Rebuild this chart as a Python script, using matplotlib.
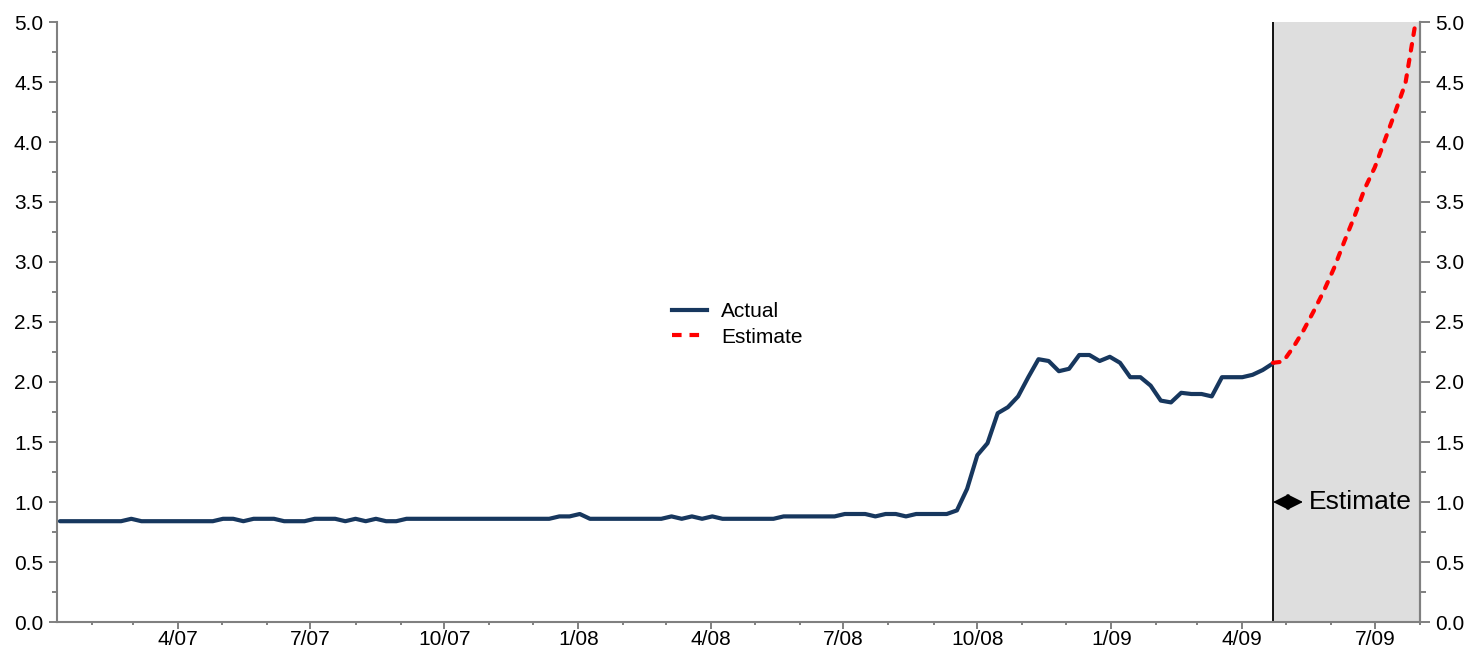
import matplotlib
matplotlib.use("Agg")
import matplotlib.pyplot as plt
import matplotlib.dates as mdates
from matplotlib.ticker import MultipleLocator, FuncFormatter
from matplotlib.lines import Line2D
import pandas as pd

plt.rcParams['font.family'] = ['Liberation Sans', 'DejaVu Sans']

# ---- data (weekly) ----
actual_start = "2007-01-10"
actual_values = [
    0.84, 0.84, 0.84, 0.84, 0.84, 0.84, 0.84, 0.86, 0.84, 0.84,
    0.84, 0.84, 0.84, 0.84, 0.84, 0.84, 0.86, 0.86, 0.84, 0.86,
    0.86, 0.86, 0.84, 0.84, 0.84, 0.86, 0.86, 0.86, 0.84, 0.86,
    0.84, 0.86, 0.84, 0.84, 0.86, 0.86, 0.86, 0.86, 0.86, 0.86,
    0.86, 0.86, 0.86, 0.86, 0.86, 0.86, 0.86, 0.86, 0.86, 0.88,
    0.88, 0.90, 0.86, 0.86, 0.86, 0.86, 0.86, 0.86, 0.86, 0.86,
    0.88, 0.86, 0.88, 0.86, 0.88, 0.86, 0.86, 0.86, 0.86, 0.86,
    0.86, 0.88, 0.88, 0.88, 0.88, 0.88, 0.88, 0.90, 0.90, 0.90,
    0.88, 0.90, 0.90, 0.88, 0.90, 0.90, 0.90, 0.90, 0.93, 1.11,
    1.39, 1.49, 1.74, 1.79, 1.88, 2.04, 2.19, 2.175, 2.09, 2.11,
    2.225, 2.225, 2.175, 2.21, 2.16, 2.04, 2.04, 1.97, 1.845, 1.83,
    1.91, 1.90, 1.90, 1.88, 2.04, 2.04, 2.04, 2.06, 2.10, 2.155,
]
estimate_start = "2009-04-22"
estimate_values = [
    2.16, 2.17, 2.29, 2.43, 2.59, 2.76, 2.95, 3.17, 3.38, 3.61,
    3.79, 4.02, 4.25, 4.49, 5.0,
]
actual_dates = pd.date_range(actual_start, periods=len(actual_values), freq="7D")
estimate_dates = pd.date_range(estimate_start, periods=len(estimate_values), freq="7D")

x_min = pd.Timestamp("2007-01-08")
x_max = pd.Timestamp("2009-08-01")
shade_start = actual_dates[-1]

navy = "#17375E"
red = "#FF0000"
gray = "#808080"

W, H = 1473, 657
fig = plt.figure(figsize=(W / 100, H / 100), dpi=100)
ax = fig.add_axes([57 / W, 1 - 622 / H, (1420 - 57) / W, (622 - 22) / H])

ax.axvspan(shade_start, x_max, color="#DEDEDE", zorder=0, lw=0)
ax.axvline(shade_start, color="black", lw=1.3, zorder=1)

ax.plot(actual_dates, actual_values, color=navy, lw=3.0, solid_capstyle="round",
        solid_joinstyle="round", zorder=3, clip_on=False)
ax.plot(estimate_dates, estimate_values, color=red, lw=3.0, dashes=(1.6, 2.2),
        dash_capstyle="round", zorder=3)

ax.set_xlim(x_min, x_max)
ax.set_ylim(0, 5)

ax.xaxis.set_major_locator(mdates.MonthLocator(bymonth=[1, 4, 7, 10]))
ax.xaxis.set_minor_locator(mdates.MonthLocator())
ax.xaxis.set_major_formatter(FuncFormatter(
    lambda v, p: f"{mdates.num2date(v).month}/{mdates.num2date(v).strftime('%y')}"))

ax.yaxis.set_major_locator(MultipleLocator(0.5))
ax.yaxis.set_minor_locator(MultipleLocator(0.25))
ax.yaxis.set_major_formatter(FuncFormatter(lambda v, p: f"{v:.1f}"))

ax.spines["top"].set_visible(False)
for s in ["left", "bottom", "right"]:
    ax.spines[s].set_color(gray)
    ax.spines[s].set_linewidth(1.5)
    ax.spines[s].set_zorder(4)

ax.tick_params(axis="x", which="major", length=5, width=1.4, color=gray, labelsize=15, pad=1)
ax.tick_params(axis="x", which="minor", length=2.5, width=1.4, color=gray)
ax.tick_params(axis="y", which="major", length=6, width=1.4, color=gray, labelsize=15, pad=4)
ax.tick_params(axis="y", which="minor", length=3.5, width=1.4, color=gray)

ax2 = ax.twinx()
ax2.set_ylim(0, 5)
ax2.yaxis.set_major_locator(MultipleLocator(0.5))
ax2.yaxis.set_minor_locator(MultipleLocator(0.25))
ax2.yaxis.set_major_formatter(FuncFormatter(lambda v, p: f"{v:.1f}"))
for s in ["top", "left", "bottom"]:
    ax2.spines[s].set_visible(False)
ax2.spines["right"].set_color(gray)
ax2.spines["right"].set_linewidth(1.5)
ax2.tick_params(axis="y", which="major", length=7, width=1.4, color=gray, labelsize=15, pad=4)
ax2.tick_params(axis="y", which="minor", length=4, width=1.4, color=gray)

# Estimate arrow + label
ax.annotate("", xy=((1273 - 57) / 1363, 1.0), xytext=((1303 - 57) / 1363, 1.0),
            xycoords=("axes fraction", "data"), textcoords=("axes fraction", "data"),
            arrowprops=dict(arrowstyle="<|-|>,head_length=0.5,head_width=0.25",
                            color="black", lw=1.2, shrinkA=0, shrinkB=0,
                            mutation_scale=20), zorder=5)
ax.text((1309 - 57) / 1363, 1.0, "Estimate", transform=ax.get_yaxis_transform(),
        fontsize=19, va="center", ha="left", color="black", zorder=5)

handles = [Line2D([], [], color=navy, lw=3.0),
           Line2D([], [], color=red, lw=3.0, dashes=(2.3, 1.9))]
fig.legend(handles, ["Actual", "Estimate"], loc="upper left",
           bbox_to_anchor=(672 / W, 1 - 302 / H), frameon=False, fontsize=15,
           handlelength=1.7, handletextpad=0.65, labelspacing=0.32,
           borderpad=0, borderaxespad=0)

fig.savefig("out.png", dpi=100)
